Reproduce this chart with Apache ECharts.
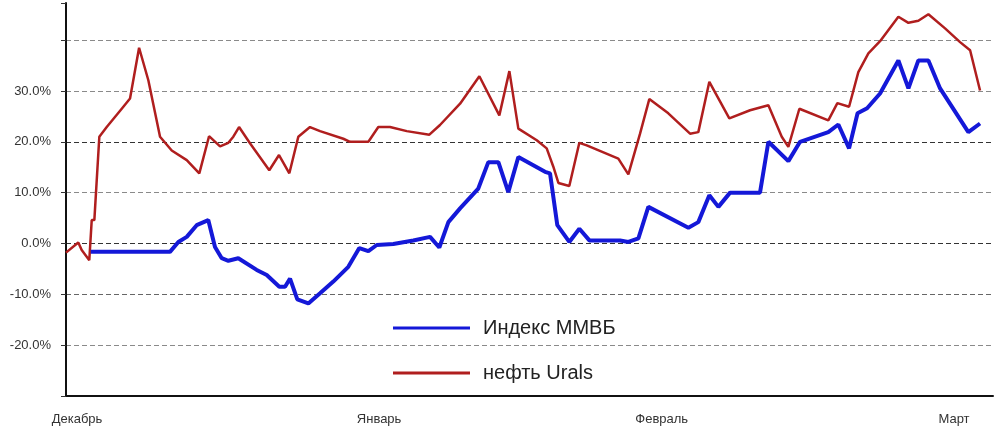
<!DOCTYPE html>
<html>
<head>
<meta charset="utf-8">
<script src="https://cdn.jsdelivr.net/npm/echarts@6/dist/echarts.min.js"></script>
<style>
  html, body { margin: 0; padding: 0; background: #fff; }
  #chart { width: 996px; height: 438px; }
</style>
</head>
<body>
<div id="chart"></div>
<script>
// x — дни от 1 декабря, y — изменение в %
var monthTicks = [0, 31, 60, 90];
var monthNames = ['Декабрь', 'Январь', 'Февраль', 'Март'];
var yTicks = [-20, -10, 0, 10, 20, 30];

var micexDays = [1.41, 9.54, 10.40, 11.26, 12.28, 13.47, 14.16, 14.85, 15.53, 16.55,
    18.44, 19.47, 20.76, 21.35, 21.86, 22.61, 23.74, 24.94, 26.30, 27.84,
    28.97, 29.90, 30.76, 32.46, 34.51, 36.23, 37.18, 38.11, 39.31, 41.18,
    42.21, 43.24, 44.26, 45.29, 48.03, 48.54, 49.29, 50.52, 51.55, 52.58,
    55.73, 56.58, 57.61, 58.63, 62.74, 63.76, 64.89, 65.82, 67.02, 70.09,
    70.95, 73.00, 74.20, 77.10, 78.13, 79.23, 80.10, 81.08, 82.41, 84.29,
    85.32, 86.34, 87.37, 88.57, 91.47, 92.67];
var micexValues = [-1.65, -1.65, 0.3, 1.3, 3.6, 4.6, -0.7, -2.9, -3.4, -2.9,
    -5.2, -6.2, -8.5, -8.5, -6.9, -11.0, -11.8, -9.8, -7.5, -4.6,
    -0.9, -1.5, -0.3, -0.1, 0.6, 1.3, -0.8, 4.2, 6.9, 10.8,
    16.0, 16.0, 10.1, 17.0, 14.1, 13.8, 3.6, 0.3, 2.9, 0.6,
    0.6, 0.3, 1.0, 7.2, 3.1, 4.2, 9.5, 7.2, 10.0, 10.0,
    20.0, 16.2, 20.0, 21.9, 23.4, 18.7, 25.6, 26.6, 29.5, 36.0,
    30.5, 36.0, 36.0, 30.5, 21.9, 23.6];

var uralsDays = [-1.13, 0.13, 0.48, 1.26, 1.51, 1.78, 2.29, 3.05, 4.59, 5.44,
    6.37, 7.32, 8.52, 9.72, 11.26, 12.55, 13.55, 14.68, 15.53, 16.04,
    16.63, 17.75, 19.73, 20.73, 21.79, 22.71, 23.91, 24.94, 27.33, 28.02,
    29.90, 30.92, 32.12, 33.84, 36.16, 37.25, 39.31, 41.29, 43.34, 44.37,
    45.29, 47.18, 48.20, 48.88, 49.40, 50.52, 51.55, 52.31, 55.55, 56.58,
    57.78, 58.73, 60.68, 62.91, 63.76, 64.89, 66.94, 69.07, 70.95, 72.32,
    73.00, 74.13, 77.10, 78.03, 79.23, 80.18, 81.21, 82.41, 84.29, 85.32,
    86.34, 87.37, 89.08, 90.62, 91.65, 92.67];
var uralsValues = [-1.8, 0.2, -1.3, -3.3, 4.6, 4.6, 21.0, 22.9, 26.5, 28.5,
    38.5, 32.1, 21.0, 18.3, 16.4, 13.8, 21.1, 19.1, 19.8, 21.0,
    22.9, 19.7, 14.4, 17.4, 13.8, 21.0, 22.9, 22.1, 20.6, 20.0,
    20.0, 22.9, 22.9, 22.1, 21.4, 23.3, 27.5, 32.9, 25.2, 33.9,
    22.6, 20.3, 18.7, 15.1, 11.9, 11.3, 19.8, 19.3, 16.7, 13.6,
    21.6, 28.4, 25.6, 21.6, 21.9, 31.8, 24.6, 26.2, 27.2, 21.0,
    19.0, 26.5, 24.2, 27.6, 26.9, 33.7, 37.4, 39.8, 44.6, 43.4,
    43.8, 45.1, 42.3, 39.6, 38.0, 30.1];

function pairs(xs, ys) {
    return xs.map(function (x, i) { return [x, ys[i]]; });
}

var chart = echarts.init(document.getElementById('chart'));

var option = {
    backgroundColor: '#ffffff',
    animation: false,
    textStyle: { fontFamily: 'Liberation Sans, Arial, sans-serif' },
    grid: { left: 66, right: 3, top: 3, bottom: 42 },
    legend: {
        orient: 'vertical',
        left: 388,
        top: 311,
        icon: 'rect',
        itemWidth: 77,
        itemHeight: 3,
        itemGap: 21,
        textStyle: {
            fontSize: 20,
            lineHeight: 24,
            color: '#222',
            padding: [0, 0, 0, 8]
        },
        data: ['Индекс ММВБ', 'нефть Urals']
    },
    xAxis: {
        type: 'value',
        min: -1.13,
        max: 94.0,
        splitLine: { show: false },
        axisTick: { show: false },
        axisLine: { onZero: false, lineStyle: { color: '#111', width: 2 } },
        axisLabel: {
            customValues: monthTicks,
            margin: 17,
            fontSize: 13,
            color: '#333',
            formatter: function (v) {
                var i = monthTicks.indexOf(v);
                return i >= 0 ? monthNames[i] : '';
            }
        }
    },
    yAxis: {
        type: 'value',
        min: -30,
        max: 47.3,
        interval: 10,
        axisLine: { show: true, onZero: false, lineStyle: { color: '#111', width: 2 } },
        axisTick: { show: true, length: 5, lineStyle: { color: '#333' } },
        axisLabel: {
            margin: 15,
            fontSize: 13,
            color: '#333',
            formatter: function (v) {
                return yTicks.indexOf(v) >= 0 ? v.toFixed(1) + '%' : '';
            }
        },
        splitLine: {
            show: true,
            showMaxLine: false,
            lineStyle: {
                type: [5, 3],
                width: 1,
                color: ['rgba(0,0,0,0)', '#8a8a8a', '#666', '#333', '#8a8a8a',
                        '#333', '#8a8a8a', '#8a8a8a', 'rgba(0,0,0,0)']
            }
        }
    },
    series: [
        {
            name: 'Индекс ММВБ',
            type: 'line',
            showSymbol: false,
            color: '#1418d8',
            lineStyle: { width: 4, color: '#1418d8' },
            data: pairs(micexDays, micexValues),
            z: 3
        },
        {
            name: 'нефть Urals',
            type: 'line',
            showSymbol: false,
            color: '#b01e1e',
            lineStyle: { width: 2.5, color: '#b01e1e' },
            data: pairs(uralsDays, uralsValues),
            z: 2
        }
    ]
};

chart.setOption(option);
</script>
</body>
</html>
